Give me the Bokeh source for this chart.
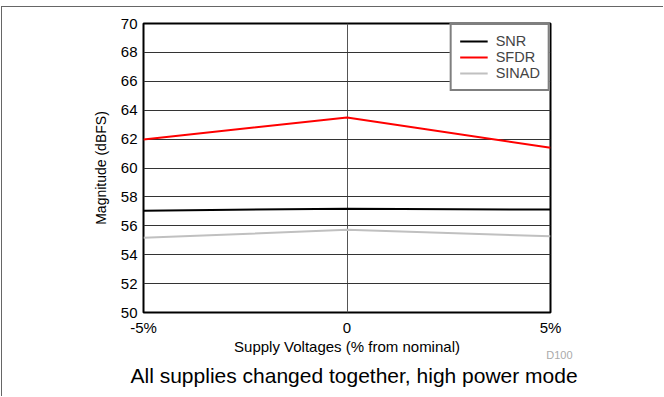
from bokeh.plotting import figure
from bokeh.models import FixedTicker, Legend, LegendItem, Title
from bokeh.embed import file_html
from bokeh.resources import INLINE

# ---- data ----
supply_pct = [-5, 0, 5]
snr = [57.05, 57.18, 57.12]
sfdr = [61.97, 63.5, 61.4]
sinad = [55.17, 55.72, 55.28]
x_ticks = [-5, 0, 5]
x_tick_labels = ["-5%", "0", "5%"]
y_ticks = [50, 52, 54, 56, 58, 60, 62, 64, 66, 68, 70]
series_names = ["SNR", "SFDR", "SINAD"]
series_colors = ["#000000", "#ff0000", "#c0c0c0"]

FONT = "Liberation Sans"

p = figure(width=662, height=390, x_range=(-5, 5), y_range=(50, 70),
           output_backend="svg", toolbar_location=None,
           min_border_left=141, min_border_right=114,
           min_border_top=16, min_border_bottom=85,
           styles={"margin-left": "1px", "margin-top": "6px",
                   "border-top": "1px solid #666", "border-left": "1px solid #666"})

p.outline_line_color = "black"
p.outline_line_width = 2

p.xaxis.ticker = FixedTicker(ticks=x_ticks)
p.xaxis.major_label_overrides = {t: l for t, l in zip(x_ticks, x_tick_labels)}
p.yaxis.ticker = FixedTicker(ticks=y_ticks)

for ax in (p.xaxis[0], p.yaxis[0]):
    ax.axis_line_color = None
    ax.major_tick_line_color = None
    ax.minor_tick_line_color = None
    ax.major_tick_out = 0
    ax.major_tick_in = 0
    ax.major_label_text_font = FONT
    ax.major_label_text_font_size = "15px"
    ax.major_label_text_color = "black"
    ax.axis_label_text_font = FONT
    ax.axis_label_text_font_style = "normal"
    ax.axis_label_text_color = "black"

p.xaxis.major_label_standoff = 6

p.yaxis.axis_label = "Magnitude (dBFS)"
p.yaxis.axis_label_text_font_size = "14px"
p.yaxis.major_label_standoff = 6
p.yaxis.axis_label_standoff = 9

p.xgrid.grid_line_color = "#555555"
p.xgrid.grid_line_width = 1
p.ygrid.grid_line_color = "#333333"
p.ygrid.grid_line_width = 1

items = []
for name, vals, col in zip(series_names, [snr, sfdr, sinad], series_colors):
    r = p.line(supply_pct, vals, line_color=col, line_width=2)
    items.append(LegendItem(label=name, renderers=[r]))

legend = Legend(items=items, location="top_right", margin=0, padding=8, spacing=0,
                border_line_color="black", border_line_width=2,
                background_fill_color="white", background_fill_alpha=1,
                label_text_font=FONT, label_text_font_size="14.5px",
                glyph_width=28, glyph_height=16, label_height=16, label_standoff=8)
p.add_layout(legend, "center")

p.add_layout(Title(text="Supply Voltages (% from nominal)", align="center", standoff=-5,
                   text_font=FONT, text_font_size="15px", text_font_style="normal",
                   text_color="black"), "below")
p.add_layout(Title(text="D100", align="right", offset=-22, standoff=-12,
                   text_font=FONT, text_font_size="11px", text_font_style="normal",
                   text_color="#aaaaaa"), "below")
p.add_layout(Title(text="All supplies changed together, high power mode",
                   align="left", offset=-13, standoff=15,
                   text_font=FONT, text_font_size="21px", text_font_style="normal",
                   text_color="black"), "below")

open("out.html", "w").write(file_html(p, INLINE))
